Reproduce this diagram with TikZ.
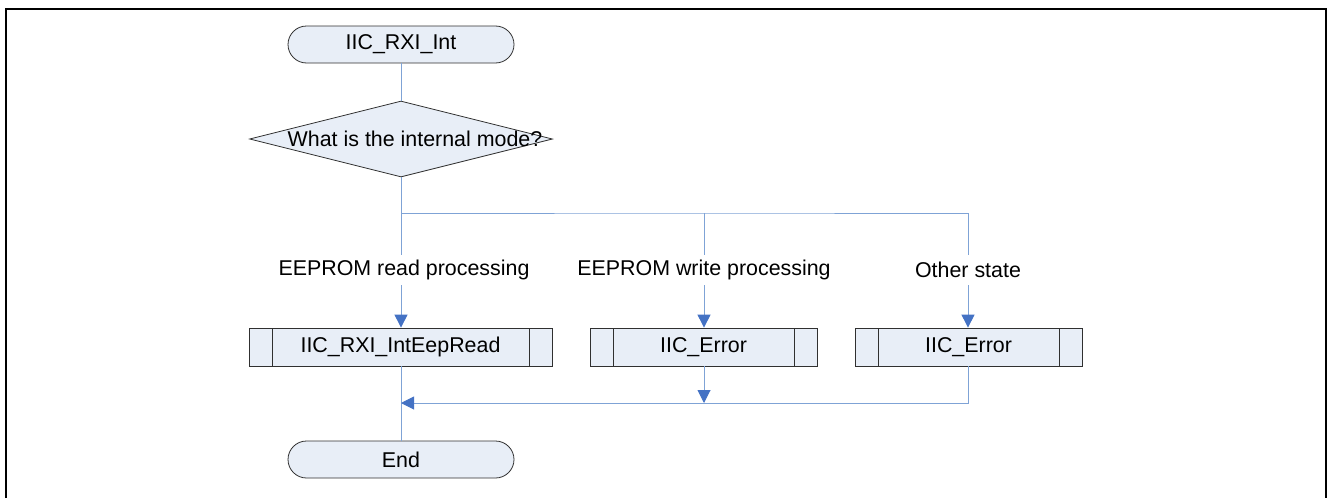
\documentclass[tikz,border=0pt]{standalone}
\usepackage{fontspec}
\setmainfont{Liberation Sans}
\usetikzlibrary{shapes.geometric,arrows.meta,calc}
\definecolor{boxfill}{HTML}{E8EEF7}
\definecolor{linkblue}{HTML}{7FA3D6}
\definecolor{tipblue}{HTML}{4472C4}
\definecolor{edge}{HTML}{303030}
\begin{document}
\begin{tikzpicture}[x=1pt,y=-1pt,
  every node/.style={font=\fontsize{21.4}{24}\selectfont},
  terminal/.style={draw=edge,fill=boxfill,line width=0.8pt,rounded corners=18.5pt,minimum width=226pt,minimum height=37pt,inner sep=0pt},
  decision/.style={draw=edge,fill=boxfill,line width=0.8pt,diamond,minimum width=303pt,minimum height=76pt,inner sep=0pt},
  procbox/.style={draw=edge,fill=boxfill,line width=0.8pt,rectangle,minimum height=38pt,inner sep=0pt,
    path picture={\draw[edge,line width=0.8pt] ([xshift=23pt]path picture bounding box.north west) -- ([xshift=23pt]path picture bounding box.south west)
      ([xshift=-23pt]path picture bounding box.north east) -- ([xshift=-23pt]path picture bounding box.south east);}},
  branchlabel/.style={inner sep=0pt,minimum height=30pt},
  link/.style={draw=linkblue,line width=1pt},
  arr/.style={link,-{Triangle[width=13pt,length=13pt,color=tipblue]}}
]
\useasboundingbox (0,0) rectangle (1328,498);
% frame
\draw[line width=2.5pt] (6,498) -- (6,9) -- (1326,9) -- (1326,498);

\node[terminal] (start) at (401,44.5) {IIC\_RXI\_Int};
\node[decision] (mode) at (401,139) {\hspace*{28pt}\makebox[0pt]{\raisebox{-2pt}{What is the internal mode?}}};

\coordinate (split) at (401,213);
\coordinate (s2) at (704,213);
\coordinate (s3) at (968,213);

\node[branchlabel] (l1) at (404,270) {EEPROM read processing};
\node[branchlabel] (l2) at (704,270) {EEPROM write processing};
\node[branchlabel] (l3) at (968,270) {Other state};

\node[procbox,minimum width=303pt] (p1) at (400.5,347) {IIC\_RXI\_IntEepRead};
\node[procbox,minimum width=227pt] (p2) at (703.5,347) {IIC\_Error};
\node[procbox,minimum width=227pt] (p3) at (968.5,347) {IIC\_Error};

\coordinate (m1) at (401,403);
\coordinate (m2) at (704,403);

\node[terminal] (stop) at (401,459.5) {End};

\draw[link] (start) -- (mode);
\draw[link] (mode) -- (split) -- (s2) -- (s3);
\draw[link] (split) -- (l1.north -| split);
\draw[link] (s2) -- (l2.north);
\draw[link] (s3) -- (l3.north);
\draw[arr] (l1.south -| split) -- (p1.north -| split);
\draw[arr] (l2.south) -- (p2.north -| l2.south);
\draw[arr] (l3.south) -- (p3.north -| l3.south);
\draw[link] (p1.south -| m1) -- (stop.north);
\draw[arr] (p2.south -| m2) -- (m2);
\draw[arr] (p3.south -| s3) |- (m1);
\end{tikzpicture}
\end{document}
